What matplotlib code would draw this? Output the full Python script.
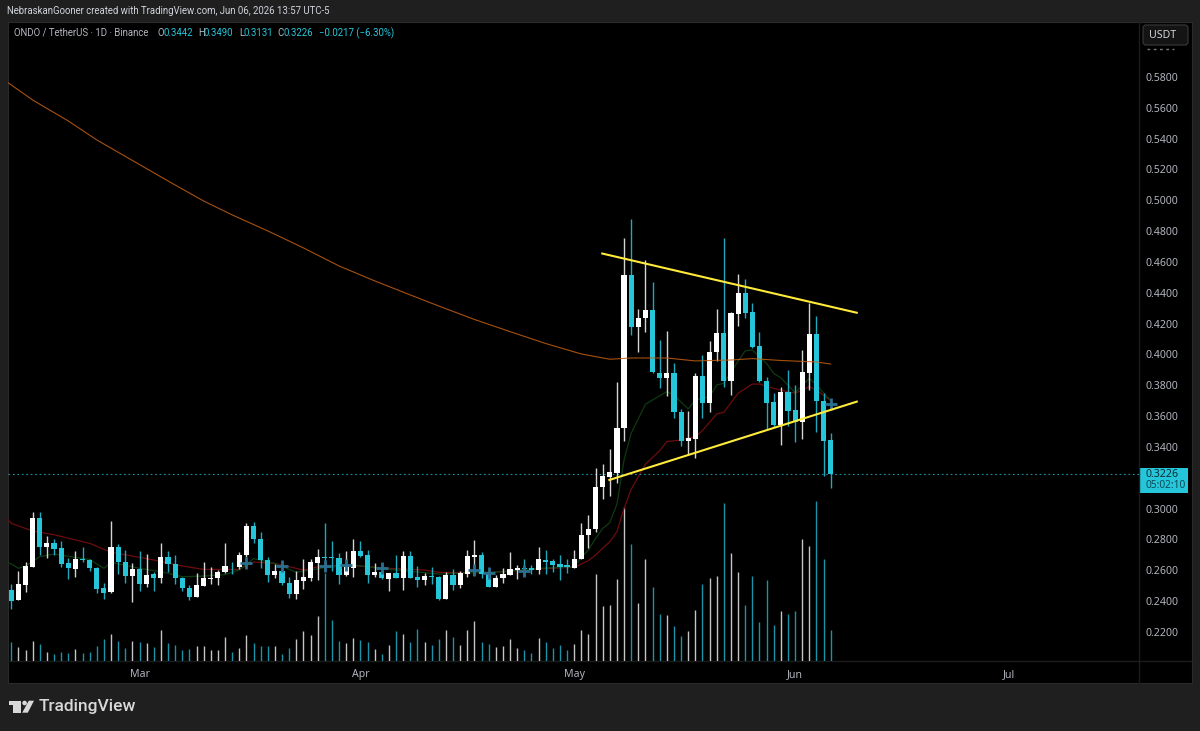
# ONDO/USDT daily chart, dark TradingView style
import matplotlib
matplotlib.use("Agg")
import matplotlib.pyplot as plt
from matplotlib.patches import Rectangle, FancyBboxPatch, Circle, Polygon

# daily candles, oldest first
opens = [
    .2472, .2408, .2507, .2624, .2939, .2749, .2780, .2743, .2645, .2609, .2671, .2667,
    .2617, .2485, .2459, .2754, .2654, .2563, .2609, .2512, .2577, .2553, .2687, .2643,
    .2551, .2488, .2430, .2501, .2546, .2548, .2587, .2628, .2620, .2700, .2888, .2805,
    .2667, .2568, .2598, .2520, .2449, .2531, .2553, .2645, .2684, .2684, .2680, .2570,
    .2613, .2728, .2697, .2568, .2590, .2546, .2583, .2553, .2693, .2555, .2538, .2563,
    .2557, .2417, .2572, .2505, .2579, .2687, .2702, .2576, .2494, .2548, .2572, .2604,
    .2617, .2617, .2602, .2669, .2660, .2639, .2635, .2617, .2671, .2827, .2868, .3138,
    .3206, .3229, .3521, .4513, .4178, .4234, .4286, .3882, .3845, .3882, .3627, .3437,
    .3452, .3860, .3688, .4014, .4141, .3830, .4260, .4398, .4275, .4053, .3828, .3689,
    .3540, .3756, .3637, .3564, .3882, .4135, .3698, .3442,
]
highs = [
    .2511, .2598, .2654, .2976, .2976, .2823, .2803, .2788, .2682, .2723, .2749, .2671,
    .2624, .2516, .2920, .2769, .2732, .2650, .2723, .2706, .2590, .2780, .2728, .2697,
    .2559, .2503, .2581, .2654, .2620, .2602, .2775, .2654, .2721, .2909, .2913, .2851,
    .2684, .2641, .2613, .2555, .2598, .2671, .2671, .2738, .2909, .2790, .2715, .2723,
    .2805, .2790, .2732, .2645, .2645, .2585, .2700, .2728, .2728, .2628, .2581, .2620,
    .2563, .2590, .2607, .2598, .2732, .2797, .2717, .2607, .2572, .2613, .2719, .2635,
    .2671, .2635, .2749, .2732, .2671, .2702, .2676, .2732, .2905, .2957, .3264, .3288,
    .3385, .3824, .4755, .4876, .4295, .4613, .4470, .4094, .4154, .3943, .3644, .3633,
    .3878, .3997, .4090, .4295, .4753, .4273, .4522, .4487, .4331, .4146, .3856, .3748,
    .3787, .3899, .3802, .4027, .4331, .4249, .3752, .3490,
]
lows = [
    .2349, .2408, .2459, .2624, .2697, .2682, .2697, .2624, .2542, .2557, .2656, .2598,
    .2453, .2414, .2455, .2576, .2516, .2397, .2468, .2490, .2468, .2520, .2590, .2512,
    .2466, .2408, .2430, .2501, .2512, .2505, .2585, .2574, .2607, .2689, .2775, .2613,
    .2527, .2553, .2507, .2423, .2417, .2481, .2533, .2538, .2598, .2598, .2512, .2563,
    .2555, .2684, .2520, .2559, .2542, .2468, .2548, .2473, .2551, .2490, .2505, .2509,
    .2408, .2414, .2473, .2486, .2557, .2568, .2553, .2492, .2490, .2520, .2568, .2546,
    .2563, .2576, .2576, .2576, .2590, .2538, .2585, .2613, .2671, .2743, .2849, .3061,
    .3084, .3164, .3437, .4126, .4018, .4148, .3878, .3785, .3733, .3590, .3409, .3348,
    .3331, .3590, .3629, .3960, .3787, .3737, .4184, .4238, .4042, .3823, .3514, .3531,
    .3413, .3538, .3432, .3452, .3769, .3499, .3212, .3131,
]
closes = [
    .2403, .2511, .2628, .2939, .2754, .2780, .2738, .2643, .2613, .2671, .2667, .2615,
    .2481, .2455, .2754, .2652, .2563, .2609, .2512, .2572, .2551, .2687, .2643, .2548,
    .2486, .2430, .2505, .2551, .2553, .2587, .2630, .2626, .2700, .2888, .2805, .2667,
    .2568, .2598, .2520, .2447, .2538, .2557, .2652, .2687, .2680, .2680, .2570, .2620,
    .2728, .2693, .2570, .2590, .2548, .2583, .2553, .2693, .2553, .2538, .2563, .2559,
    .2417, .2572, .2505, .2583, .2693, .2702, .2574, .2494, .2553, .2576, .2609, .2617,
    .2611, .2604, .2671, .2656, .2635, .2624, .2620, .2676, .2831, .2868, .3138, .3210,
    .3236, .3525, .4513, .4178, .4234, .4286, .3884, .3848, .3882, .3625, .3439, .3458,
    .3860, .3688, .4016, .4139, .3830, .4267, .4398, .4271, .4046, .3826, .3687, .3540,
    .3756, .3633, .3564, .3886, .4135, .3698, .3439, .3226,
]
# relative volume
volumes = [
    19.3, 13.7, 10.7, 20.0, 16.7, 9.0, 7.3, 9.0, 8.0, 11.7, 8.0, 9.0,
    15.3, 21.7, 26.7, 20.0, 13.0, 20.0, 19.3, 17.7, 14.0, 31.0, 17.7, 16.0,
    11.3, 12.3, 15.3, 15.3, 11.3, 10.7, 24.0, 9.0, 13.0, 26.0, 17.7, 15.3,
    14.7, 15.3, 7.3, 13.0, 21.7, 30.0, 26.0, 45.0, 87.7, 41.0, 20.0, 17.7,
    22.7, 21.0, 18.7, 12.0, 6.7, 16.0, 30.0, 27.3, 19.3, 32.0, 18.7, 16.0,
    21.7, 31.0, 24.0, 16.0, 31.0, 40.0, 18.7, 16.7, 14.0, 15.3, 21.7, 13.0,
    10.7, 8.0, 22.7, 19.3, 13.0, 16.0, 10.7, 16.7, 30.7, 26.7, 87.0, 55.0,
    56.0, 82.3, 154.3, 117.0, 57.7, 102.3, 74.3, 46.7, 45.7, 35.3, 25.0, 30.0,
    51.0, 77.0, 83.0, 85.0, 158.3, 108.3, 89.0, 56.0, 85.0, 38.7, 81.0, 36.0,
    50.0, 47.0, 50.0, 121.7, 115.0, 160.0, 101.7, 31.3,
]

# moving averages, read at these bar numbers
long_ma_bars = [-1, 3, 8, 12, 17, 22, 27, 31, 36, 41, 46, 51, 56, 60, 65, 70, 75, 80, 84, 87, 92, 96, 101, 104, 108, 113, 115]
long_ma = [.5780, .5650, .5514, .5391, .5258, .5125, .4995, .4905, .4801, .4691, .4574, .4477, .4386, .4314,
           .4227, .4148, .4071, .4003, .3969, .3977, .3977, .3958, .3964, .3973, .3961, .3951, .3938]
red_ma_bars = [-1, 0, 3, 6, 9, 11, 14, 18, 21, 24, 27, 32, 34, 37, 41, 44, 48, 53, 58, 60, 65, 69, 74, 79, 80, 81,
               82, 83, 84, 85, 86, 87, 88, 89, 91, 92, 94, 96, 97, 99, 100, 102, 104, 105, 107, 110, 112, 113, 115]
red_ma = [.2955, .2905, .2855, .2831, .2797, .2775, .2717, .2684, .2658, .2628, .2606, .2606, .2654, .2645,
          .2602, .2632, .2630, .2613, .2602, .2587, .2585, .2591, .2609, .2620, .2641, .2663,
          .2699, .2743, .2786, .2851, .3002, .3125, .3208, .3288, .3376, .3435, .3445, .3467, .3506, .3614,
          .3625, .3748, .3808, .3808, .3780, .3748, .3791, .3769, .3700]
green_ma_bars = [-1, 0, 1, 2, 4, 6, 9, 11, 13, 14, 18, 21, 24, 27, 30, 32, 34, 37, 40, 44, 48, 53, 60, 65, 69, 74, 79, 80,
                 81, 82, 83, 84, 85, 86, 87, 89, 92, 93, 95, 96, 98, 99, 100, 101, 103, 104, 106, 107, 108, 110, 112, 113, 115]
green_ma = [.2660, .2641, .2613, .2628, .2689, .2706, .2684, .2671, .2613, .2652, .2613, .2591, .2559, .2563,
            .2572, .2602, .2676, .2645, .2587, .2617, .2635, .2607, .2576, .2585, .2591, .2613, .2624, .2684,
            .2732, .2807, .2872, .2909, .3030, .3316, .3489, .3677, .3759, .3737, .3646, .3705, .3726, .3802,
            .3813, .3888, .4024, .4029, .3942, .3877, .3849, .3752, .3845, .3802, .3700]

# cross markers of the indicator
cross_bars = [33, 38, 44, 47, 52, 65, 67, 72, 115]
cross_prices = [.2645, .2628, .2628, .2635, .2617, .2602, .2581, .2596, .3676]

# hand-drawn trend lines
upper_bars, upper_prices = [82.8, 118.8], [.4656, .4269]
lower_bars, lower_prices = [83.8, 118.8], [.3184, .3696]

last_price = .3226
price_ticks = [.58, .56, .54, .52, .50, .48, .46, .44, .42, .40, .38, .36, .34, .30, .28, .26, .24, .22]
month_bars = [18, 49, 79, 110, 140]
month_labels = ["Mar", "Apr", "May", "Jun", "Jul"]

BG = "#1f1f1f"
TEAL = "#26c6da"
TEXT = "#b2b5be"
UI_FONT = "Noto Sans"
HEAD_FONT = "Roboto"
HEAD_SIZE = 6.9

fig = plt.figure(figsize=(12, 7.31), dpi=100, facecolor=BG)

# page furniture, in pixels
deco = fig.add_axes([0, 0, 1, 1], zorder=0)
deco.set_xlim(0, 1200)
deco.set_ylim(731, 0)
deco.axis("off")
deco.add_patch(Rectangle((8, 22), 1183.5, 661, fc="black", ec="#2a2a2a", lw=0.8))
deco.plot([1139, 1139], [22, 683], color="#1c1c1c", lw=1)
deco.plot([8, 1191], [661, 661], color="#1c1c1c", lw=1)

deco.text(7, 11.5, "NebraskanGooner created with TradingView.com, Jun 06, 2026 13:57 UTC-5",
          color="#d1d4dc", fontsize=HEAD_SIZE, family=HEAD_FONT, va="center")
deco.text(14, 33, "ONDO / TetherUS · 1D · Binance", color=TEXT, fontsize=HEAD_SIZE, family=HEAD_FONT, va="center")
for x, label, col in [(157, "O", TEXT), (164, "0.3442", TEAL), (198, "H", TEXT), (204, "0.3490", TEAL),
                      (239, "L", TEXT), (244, "0.3131", TEAL), (277, "C", TEXT), (283, "0.3226", TEAL),
                      (319, "−0.0217 (−6.30%)", TEAL)]:
    deco.text(x, 33, label, color=col, fontsize=HEAD_SIZE, family=HEAD_FONT, va="center")

# currency button
deco.add_patch(FancyBboxPatch((1143, 25), 45, 20, boxstyle="round,pad=0,rounding_size=3",
                              fc="#141414", ec="#3a3a3a", lw=0.8, mutation_aspect=1))
deco.text(1149, 35.5, "USDT", color="#d1d4dc", fontsize=7.6, family=UI_FONT, va="center")
deco.plot([1147, 1174], [49, 49], color="#777777", lw=1, ls=(0, (2, 2.5)))

# last price tag
deco.add_patch(Rectangle((1140, 467.5), 48, 25, fc=TEAL, ec="none"))
deco.text(1146, 474.5, "0.3226", color="#0b2a30", fontsize=7.6, family=UI_FONT, va="center")
deco.text(1146, 485.5, "05:02:10", color="#0b4a55", fontsize=7.3, family=UI_FONT, va="center")

# logo
logo = "#d8d8d8"
deco.add_patch(Polygon([(9.3, 700.7), (20.7, 700.7), (20.7, 712.7), (13.3, 712.7), (13.3, 704.7), (9.3, 704.7)], fc=logo, ec="none"))
deco.add_patch(Circle((24.6, 703), 2.3, fc=logo, ec="none"))
deco.add_patch(Polygon([(28.8, 700.7), (34, 700.7), (27.8, 712.7), (22.2, 712.7)], fc=logo, ec="none"))
deco.text(39, 707, "TradingView", color=logo, fontsize=12.5, family="Roboto", weight="medium", va="center")

# price pane
W, H = 1200, 731
ax = fig.add_axes([8 / W, (H - 661) / H, 1131 / W, 639 / H], zorder=1)
ax.set_facecolor("none")
bars = list(range(len(closes)))
ax.set_xlim(-0.463, 158.27)
ax.set_ylim(.2012, .6156)

colors = ["#ffffff" if c >= o else TEAL for o, c in zip(opens, closes)]
wick_colors = ["#d4d4d4" if c >= o else "#1fa9bd" for o, c in zip(opens, closes)]

# volume sits on its own scale at the pane's floor
vol_ax = ax.twinx()
vol_ax.set_ylim(0, 639)
vol_ax.axis("off")
vol_ax.set_zorder(0)
ax.set_zorder(2)
vol_colors = ["#c4c4c4" if c >= o else "#1a93a8" for o, c in zip(opens, closes)]
vol_ax.vlines(bars, 0, volumes, colors=vol_colors, lw=1.0)

ax.plot(red_ma_bars, red_ma, color="#6d0c0c", lw=0.9, zorder=1)
ax.plot(green_ma_bars, green_ma, color="#0e3a10", lw=0.9, zorder=1)
ax.vlines(bars, lows, highs, colors=wick_colors, lw=1.0, zorder=2)
ax.bar(bars, [max(abs(c - o), .0005) for o, c in zip(opens, closes)],
       bottom=[min(o, c) for o, c in zip(opens, closes)],
       width=0.72, color=colors, lw=0, zorder=3)
ax.plot(long_ma_bars, long_ma, color="#c45f12", lw=0.8, alpha=0.85, zorder=4)
ax.plot(cross_bars, cross_prices, ls="none", marker="+", ms=8.5, mew=2, color="#2a6f8f", zorder=4)
ax.axhline(last_price, color=TEAL, lw=0.8, ls=(0, (1.5, 2.5)), alpha=0.75, zorder=1)
ax.plot(upper_bars, upper_prices, color="#ffeb3b", lw=1.5, zorder=5, solid_capstyle="butt")
ax.plot(lower_bars, lower_prices, color="#ffeb3b", lw=1.5, zorder=5, solid_capstyle="butt")

for side in ax.spines.values():
    side.set_visible(False)
ax.yaxis.tick_right()
ax.set_yticks(price_ticks, [f"{p:.4f}" for p in price_ticks], color=TEXT, fontsize=7.6, family=UI_FONT)
ax.set_xticks(month_bars, month_labels, color=TEXT, fontsize=7.6, family=UI_FONT)
ax.tick_params(axis="both", length=0)
ax.tick_params(axis="y", pad=5)
ax.tick_params(axis="x", pad=6)

fig.savefig("out.png", dpi=100, facecolor=BG)
